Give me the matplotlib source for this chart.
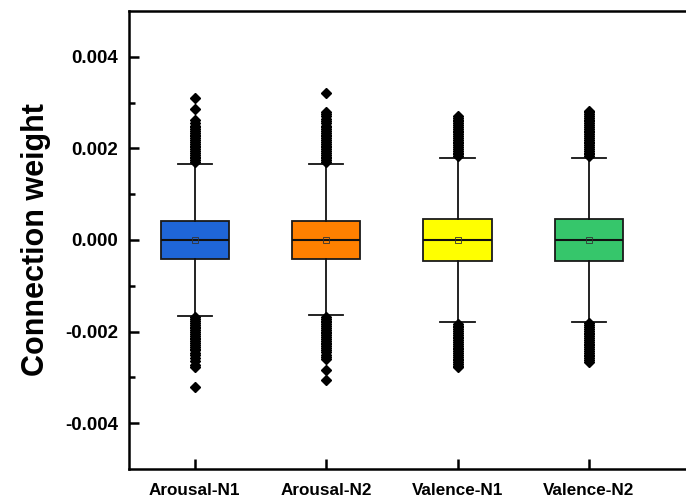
import matplotlib
matplotlib.use("Agg")
import matplotlib.pyplot as plt

plt.rcParams['font.family'] = ['Liberation Sans', 'DejaVu Sans']
plt.rcParams['font.weight'] = 'bold'

# groups and box statistics
labels = ['Arousal-N1', 'Arousal-N2', 'Valence-N1', 'Valence-N2']
colors = ['#1f66d8', '#ff8000', '#ffff00', '#36c66b']
q1 = [-0.00041, -0.00041, -0.00046, -0.00045]
med = [0.0, 0.0, 0.0, 0.0]
q3 = [0.00041, 0.00042, 0.00046, 0.00045]
mean = [0.0, 0.0, 0.0, 0.0]
whislo = [-0.00165, -0.00164, -0.00179, -0.00178]
whishi = [0.00166, 0.00166, 0.00179, 0.00179]

# outliers (estimated, dense columns)
a1_out = [0.00170, 0.00174, 0.00178, 0.00182, 0.00186, 0.00190, 0.00194, 0.00198,
          0.00202, 0.00206, 0.00210, 0.00214, 0.00218, 0.00222, 0.00226, 0.00230,
          0.00234, 0.00238, 0.00242, 0.00246, 0.00250, 0.00255, 0.00262, 0.00286, 0.00310,
          -0.00169, -0.00173, -0.00177, -0.00181, -0.00185, -0.00189, -0.00193, -0.00197,
          -0.00201, -0.00205, -0.00209, -0.00213, -0.00217, -0.00221, -0.00225, -0.00229,
          -0.00233, -0.00237, -0.00241, -0.00246, -0.00252, -0.00258, -0.00265, -0.00272,
          -0.00278, -0.00321]
a2_out = [0.00170, 0.00174, 0.00178, 0.00182, 0.00186, 0.00190, 0.00194, 0.00198,
          0.00202, 0.00206, 0.00210, 0.00214, 0.00218, 0.00222, 0.00226, 0.00230,
          0.00234, 0.00238, 0.00242, 0.00246, 0.00250, 0.00255, 0.00260, 0.00265,
          0.00270, 0.00276, 0.00280, 0.00321,
          -0.00168, -0.00172, -0.00176, -0.00180, -0.00184, -0.00188, -0.00192, -0.00196,
          -0.00200, -0.00204, -0.00208, -0.00212, -0.00216, -0.00220, -0.00224, -0.00228,
          -0.00232, -0.00236, -0.00240, -0.00245, -0.00250, -0.00255, -0.00260,
          -0.00284, -0.00306]
v1_out = [0.00183, 0.00187, 0.00191, 0.00195, 0.00199, 0.00203, 0.00207, 0.00211,
          0.00215, 0.00219, 0.00223, 0.00227, 0.00231, 0.00235, 0.00239, 0.00243,
          0.00247, 0.00251, 0.00255, 0.00259, 0.00263, 0.00267, 0.00270,
          -0.00183, -0.00187, -0.00191, -0.00195, -0.00199, -0.00203, -0.00207, -0.00211,
          -0.00215, -0.00219, -0.00223, -0.00227, -0.00231, -0.00235, -0.00239, -0.00243,
          -0.00247, -0.00251, -0.00255, -0.00259, -0.00263, -0.00267, -0.00271, -0.00275,
          -0.00278]
v2_out = [0.00183, 0.00187, 0.00191, 0.00195, 0.00199, 0.00203, 0.00207, 0.00211,
          0.00215, 0.00219, 0.00223, 0.00227, 0.00231, 0.00235, 0.00239, 0.00243,
          0.00247, 0.00251, 0.00255, 0.00259, 0.00263, 0.00267, 0.00271, 0.00275,
          0.00279, 0.00282,
          -0.00182, -0.00186, -0.00190, -0.00194, -0.00198, -0.00202, -0.00206, -0.00210,
          -0.00214, -0.00218, -0.00222, -0.00226, -0.00230, -0.00234, -0.00238, -0.00242,
          -0.00246, -0.00250, -0.00254, -0.00258, -0.00262, -0.00266]
outliers = [a1_out, a2_out, v1_out, v2_out]

stats = []
for i in range(len(labels)):
    stats.append(dict(label=labels[i], q1=q1[i], med=med[i], q3=q3[i], mean=mean[i],
                      whislo=whislo[i], whishi=whishi[i], fliers=outliers[i]))

fig = plt.figure(figsize=(6.86, 5.0), dpi=100)
ax = fig.add_axes([0.188, 0.062, 0.82, 0.916])

bp = ax.bxp(stats, positions=[1, 2, 3, 4], widths=0.52, patch_artist=True, showmeans=True,
            boxprops=dict(linewidth=1.3, edgecolor='#1a1a1a'),
            medianprops=dict(color='#111111', linewidth=1.5),
            whiskerprops=dict(color='#111111', linewidth=1.3),
            capprops=dict(color='#111111', linewidth=1.3),
            capwidths=0.26,
            flierprops=dict(marker='D', markersize=5.2, markerfacecolor='black',
                            markeredgecolor='black', linestyle='none'),
            meanprops=dict(marker='s', markersize=4, markerfacecolor='none',
                           markeredgecolor='#333333', markeredgewidth=0.6))
for patch, c in zip(bp['boxes'], colors):
    patch.set_facecolor(c)

ax.set_xlim(0.5, 4.78)
ax.set_ylim(-0.005, 0.005)
ax.set_yticks([-0.004, -0.002, 0.0, 0.002, 0.004])
ax.set_yticks([-0.003, -0.001, 0.001, 0.003], minor=True)
ax.set_yticklabels(['-0.004', '-0.002', '0.000', '0.002', '0.004'])
ax.set_xticks([1, 2, 3, 4])
ax.set_xticklabels(labels)

ax.tick_params(axis='y', which='major', direction='in', length=7, width=1.8,
               labelsize=13.5, pad=8)
ax.tick_params(axis='y', which='minor', direction='in', length=4, width=1.8)
ax.tick_params(axis='x', which='major', direction='in', length=7, width=1.8,
               labelsize=12.3, pad=10)
for lab in ax.get_xticklabels() + ax.get_yticklabels():
    lab.set_fontweight('bold')

for s in ['left', 'bottom', 'top']:
    ax.spines[s].set_linewidth(1.8)
ax.spines['right'].set_visible(False)

ax.set_ylabel('Connection weight', fontsize=22, fontweight='bold', labelpad=10)

fig.savefig('out.png', dpi=100)
